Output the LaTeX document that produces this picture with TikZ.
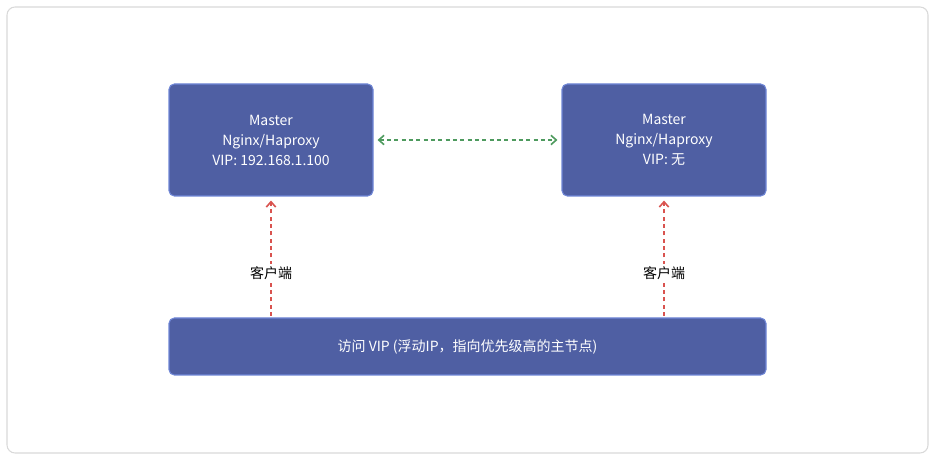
\documentclass[tikz,border=0pt]{standalone}
\usepackage{fontspec}
\setmainfont{Noto Sans CJK SC}
\usetikzlibrary{arrows.meta}
\definecolor{boxfill}{HTML}{4F5FA3}
\definecolor{boxline}{HTML}{6F86D6}
\definecolor{grn}{HTML}{4E9A5E}
\definecolor{rd}{HTML}{D9534F}
\tikzset{
 box/.style={draw=boxline,fill=boxfill,rounded corners=4pt,text=white,align=center,font=\fontsize{10.5}{15}\selectfont,line width=0.8pt},
 garrow/.style={grn,dashed,line width=1.2pt,dash pattern=on 3pt off 2.5pt,{Straight Barb[length=4pt,width=7pt]}-{Straight Barb[length=4pt,width=7pt]}},
 rarrow/.style={rd,line width=1.2pt,dash pattern=on 3pt off 2.5pt,-{Straight Barb[length=4pt,width=7pt]}},
 lbl/.style={fill=white,font=\fontsize{10.5}{12}\selectfont,inner sep=2pt}
}
\begin{document}
\begin{tikzpicture}[x=0.75pt,y=-0.75pt]
\useasboundingbox (0,0) rectangle (935,459);
\draw[black!15,rounded corners=6pt,line width=0.8pt] (7,7) rectangle (928,453);
\node[box,minimum width=204*0.75pt,minimum height=112*0.75pt] (m1) at (271,140) {Master\\Nginx/Haproxy\\VIP: 192.168.1.100};
\node[box,minimum width=204*0.75pt,minimum height=112*0.75pt] (m2) at (664,140) {Master\\Nginx/Haproxy\\VIP: 无};
\node[box,minimum width=597*0.75pt,minimum height=57*0.75pt] (v) at (467.5,346.5) {访问 VIP (浮动IP，指向优先级高的主节点)};
\draw[garrow] ([xshift=3pt]m1.east) -- ([xshift=-3pt]m2.east -| m2.west);
\coordinate (a1) at (271,316);
\coordinate (a2) at (664,316);
\draw[rarrow] (a1) -- ([yshift=-3pt]m1.south);
\draw[rarrow] (a2) -- ([yshift=-3pt]m2.south);
\node[lbl] (l1) at (271,273) {客户端};
\node[lbl] (l2) at (664,273) {客户端};
\end{tikzpicture}
\end{document}
